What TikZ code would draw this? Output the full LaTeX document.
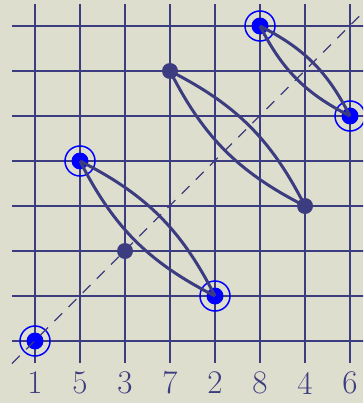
\documentclass[tikz,border=0pt]{standalone}
\begin{document}
\begin{tikzpicture}[x=1pt,y=-1pt,
  gridline/.style={draw=gridc,line width=2pt},
  darkdot/.style={circle,fill=gridc,minimum size=16pt,inner sep=0pt},
  bluedot/.style={circle,fill=blue,minimum size=17pt,inner sep=0pt},
  ring/.style={circle,draw=blue,line width=1.5pt,minimum size=30pt,inner sep=0pt},
  lens/.style={draw=gridc,line width=3pt},
  diag/.style={draw=gridc,line width=1.2pt,dash pattern=on 11pt off 9pt},
  lab/.style={text=gridc,font=\fontsize{33}{35}\selectfont,inner sep=0pt}]
\definecolor{gridc}{RGB}{60,60,128}
\definecolor{bg}{RGB}{222,222,206}
\fill[bg] (0,0) rectangle (363,403);
\useasboundingbox (0,0) rectangle (363,403);
\begin{scope}
\clip (0,0) rectangle (363,403);
\foreach \i in {0,...,7} {
  \draw[gridline] (35+45*\i,4) -- (35+45*\i,363);
  \draw[gridline] (12,26+45*\i) -- (375,26+45*\i);
}
\coordinate (d0) at (12,363.5);
\coordinate (d1) at (385,-9.5);
% points
\node[bluedot] (p1) at (35,341) {};
\node[ring] (r1) at (35,341) {};
\node[bluedot] (p5) at (80,161) {};
\node[ring] (r5) at (80,161) {};
\node[bluedot] (p2) at (215,296) {};
\node[ring] (r2) at (215,296) {};
\node[bluedot] (p8) at (260,26) {};
\node[ring] (r8) at (260,26) {};
\node[bluedot] (p6) at (350,116) {};
\node[ring] (r6) at (350,116) {};
\draw[diag] (d0) -- (d1);
\node[darkdot] (p3) at (125,251) {};
\node[darkdot] (p7) at (170,71) {};
\node[darkdot] (p4) at (305,206) {};
\draw[lens] (p5.center) to[bend left=18] (p2.center);
\draw[lens] (p5.center) to[bend right=18] (p2.center);
\draw[lens] (p7.center) to[bend left=18] (p4.center);
\draw[lens] (p7.center) to[bend right=18] (p4.center);
\draw[lens] (p8.center) to[bend left=18] (p6.center);
\draw[lens] (p8.center) to[bend right=18] (p6.center);
\end{scope}
\node[lab] (l1) at (35,383) {1};
\node[lab] (l2) at (80,383) {5};
\node[lab] (l3) at (125,383) {3};
\node[lab] (l4) at (170,383) {7};
\node[lab] (l5) at (215,383) {2};
\node[lab] (l6) at (260,383) {8};
\node[lab] (l7) at (305,383) {4};
\node[lab] (l8) at (350,383) {6};
\end{tikzpicture}
\end{document}
